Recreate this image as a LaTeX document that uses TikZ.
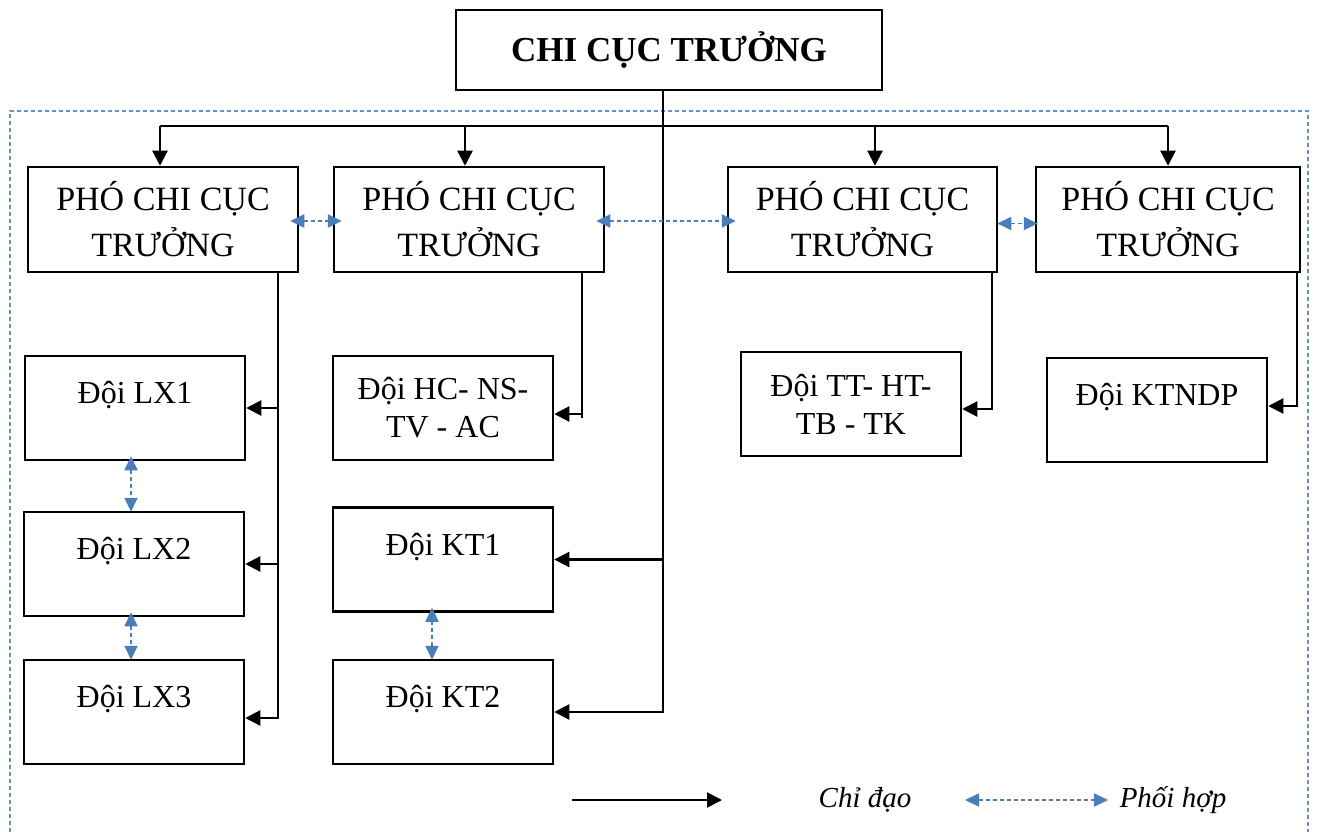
\documentclass[tikz,border=0pt]{standalone}
\usepackage{fontspec}
\setmainfont{Liberation Serif}
\usetikzlibrary{arrows.meta}
\definecolor{phoihop}{RGB}{74,126,187}
\tikzset{
  box/.style={draw, line width=2.5pt, inner sep=0pt, align=center},
  titlebox/.style={box, minimum width=426, minimum height=80, font=\fontsize{35}{42}\selectfont\bfseries},
  phobox/.style={box, minimum width=270, minimum height=105, font=\fontsize{34}{46}\selectfont},
  doibox/.style={box, minimum width=220, minimum height=104, font=\fontsize{32}{38}\selectfont},
  topline/.style={text height=12pt, text depth=21pt},
  nhanh/.style={line width=2.2pt},
  chidao/.style={line width=2.2pt, -{Triangle[length=15pt,width=15pt]}},
  phoi/.style={phoihop, line width=1.8pt, dash pattern=on 4pt off 3pt,
    {Triangle[length=14pt,width=13pt]}-{Triangle[length=14pt,width=13pt]},
    shorten <=-9pt, shorten >=-9pt},
  legend/.style={font=\fontsize{29}{34}\selectfont\itshape}
}
\begin{document}
\begin{tikzpicture}[x=1pt,y=-1pt]
\useasboundingbox (0,0) rectangle (1317,832);
% outer frame
\draw[phoihop!85, line width=1.2pt, dash pattern=on 4pt off 3pt] (10,832) -- (10,111) -- (1308,111) -- (1308,832);
% boxes
\node[titlebox] (chicuc) at (669,50) {CHI CỤC TRƯỞNG};
\node[phobox] (pho1) at (163,219.5) {PHÓ CHI CỤC\\TRƯỞNG};
\node[phobox] (pho2) at (469,219.5) {PHÓ CHI CỤC\\TRƯỞNG};
\node[phobox, minimum width=269] (pho3) at (862.5,219.5) {PHÓ CHI CỤC\\TRƯỞNG};
\node[phobox, minimum width=264] (pho4) at (1168,219.5) {PHÓ CHI CỤC\\TRƯỞNG};
\node[doibox,topline] (lx1) at (135,408) {Đội LX1};
\node[doibox,topline] (lx2) at (134,564) {Đội LX2};
\node[doibox,topline] (lx3) at (134,712) {Đội LX3};
\node[doibox] (hc) at (443,408) {Đội HC- NS-\\TV - AC};
\node[doibox,topline] (kt1) at (443,559.5) {Đội KT1};
\node[doibox,topline] (kt2) at (443,712) {Đội KT2};
\node[doibox] (tt) at (851,404) {Đội TT- HT-\\TB - TK};
\node[doibox,topline] (ktndp) at (1157,410) {Đội KTNDP};
% chi dao
\coordinate (truc) at (663,0);
\coordinate (bus1) at (160,126);
\coordinate (bus2) at (465,126);
\coordinate (bus3) at (875,126);
\coordinate (bus4) at (1168,126);
\draw[nhanh] (bus1) -- (bus4);
\foreach \i in {1,...,4}
  \draw[chidao] (bus\i) -- (pho\i.north -| bus\i);
\draw[chidao] (chicuc.south -| truc) |- (kt2.east);
\draw[chidao] (truc |- kt1.east) -- (kt1.east);
\coordinate (lxtruc) at (278,0);
\draw[chidao] (pho1.south -| lxtruc) |- ([yshift=-6pt]lx3.east);
\draw[chidao] (lxtruc |- lx1.east) -- (lx1.east);
\draw[chidao] (lxtruc |- lx2.east) -- (lx2.east);
\coordinate (hctruc) at (582,0);
\draw[chidao] (pho2.south -| hctruc) |- ([yshift=-6pt]hc.east);
\draw[nhanh] ([yshift=-6pt]hc.east -| hctruc) -- ++(0,4);
\coordinate (tttruc) at (992,0);
\draw[chidao] (pho3.south -| tttruc) |- ([yshift=-5pt]tt.east);
\coordinate (kttruc) at (1297,0);
\draw[chidao] (pho4.south -| kttruc) |- ([yshift=4pt]ktndp.east);
% phoi hop
\draw[phoi] ([yshift=-1.5pt]pho1.east) -- ([yshift=-1.5pt]pho2.west);
\draw[phoi] ([yshift=-1.5pt]pho2.east) -- ([yshift=-1.5pt]pho3.west);
\draw[phoi, shorten <=-1pt, shorten >=-3pt] ([yshift=-4pt]pho3.east) -- ([yshift=-4pt]pho4.west);
\draw[phoi, shorten <=-5pt, shorten >=-1pt] ([xshift=-4pt]lx1.south) -- ([xshift=-4pt]lx1.south |- lx2.north);
\draw[phoi, shorten <=-5pt, shorten >=-1pt] ([xshift=-3pt]lx2.south) -- ([xshift=-3pt]lx2.south |- lx3.north);
\draw[phoi, shorten <=-5pt, shorten >=-1pt] ([xshift=-11pt]kt1.south) -- ([xshift=-11pt]kt1.south |- kt2.north);
% legend
\coordinate (cd1) at (572,800);
\coordinate (cd2) at (722,800);
\draw[chidao] (cd1) -- (cd2);
\node[legend] (cdtext) at (865,800) {Chỉ đạo};
\coordinate (ph1) at (965,800);
\coordinate (ph2) at (1108,800);
\draw[phoi, shorten <=0pt, shorten >=0pt] (ph1) -- (ph2);
\node[legend] (phtext) at (1173,800) {Phối hợp};
\end{tikzpicture}
\end{document}
